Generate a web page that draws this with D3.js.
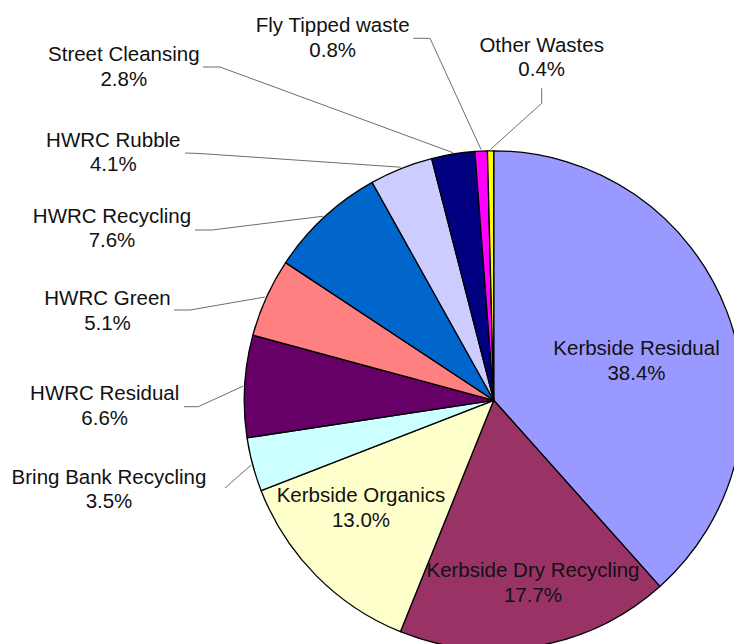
<!DOCTYPE html>
<html>
<head>
<meta charset="utf-8">
<script src="https://cdn.jsdelivr.net/npm/d3@7"></script>
<style>
  html, body { margin: 0; padding: 0; background: #fff; }
  svg { display: block; }
  text { font-family: "Liberation Sans", Arial, sans-serif; font-size: 20.5px; fill: #111; }
</style>
</head>
<body>
<svg id="chart" width="734" height="644"></svg>
<script>
// ---- data ----
const categories = [
  "Kerbside Residual", "Kerbside Dry Recycling", "Kerbside Organics",
  "Bring Bank Recycling", "HWRC Residual", "HWRC Green", "HWRC Recycling",
  "HWRC Rubble", "Street Cleansing", "Fly Tipped waste", "Other Wastes"
];
const values = [38.4, 17.7, 13.0, 3.5, 6.6, 5.1, 7.6, 4.1, 2.8, 0.8, 0.4];
const colors = [
  "#9999FF", "#993366", "#FFFFCC", "#CCFFFF", "#660066", "#FF8080",
  "#0066CC", "#CCCCFF", "#000080", "#FF00FF", "#FFFF00"
];

// ---- layout (label placement: centre x, first baseline y; leader knots) ----
const labelLayout = [
  { x: 636.5, y: 355,   leader: null },
  { x: 533,   y: 577,   leader: null },
  { x: 361,   y: 502,   leader: null },
  { x: 109,   y: 483.7, leader: [[225, 488]] },
  { x: 104.7, y: 400.3, leader: [[184, 406.7], [198.3, 406.7]] },
  { x: 107.5, y: 305,   leader: [[174, 310], [190, 310]] },
  { x: 112,   y: 222.7, leader: [[195, 230], [211.7, 230]] },
  { x: 113.3, y: 146.7, leader: [[185, 153], [200, 153.5]] },
  { x: 123.8, y: 61,    leader: [[203, 67], [220, 67]] },
  { x: 332.7, y: 32.3,  leader: [[413.3, 38.3], [430, 38.3]] },
  { x: 541.7, y: 51.7,  leader: [[541.7, 88.3], [541.7, 103.3]] }
];

const cx = 493.7, cy = 400.3, radius = 249.5, lineGap = 24.5;

const svg = d3.select("#chart");
const g = svg.append("g").attr("transform", `translate(${cx},${cy})`);

const data = categories.map((c, i) => ({ name: c, value: values[i], color: colors[i], i }));

const pie = d3.pie().value(d => d.value).sort(null).startAngle(0).endAngle(2 * Math.PI);
const arcs = pie(data);
const arc = d3.arc().innerRadius(0).outerRadius(radius);

g.selectAll("path.slice")
  .data(arcs)
  .enter().append("path")
  .attr("class", "slice")
  .attr("d", arc)
  .attr("fill", d => d.data.color)
  .attr("stroke", "#000")
  .attr("stroke-width", 1.3)
  .attr("stroke-linejoin", "round");

// leader lines
const line = d3.line();
arcs.forEach((a, i) => {
  const lay = labelLayout[i];
  if (!lay.leader) return;
  const mid = (a.startAngle + a.endAngle) / 2;
  const r = radius + 1.5;
  const end = [cx + r * Math.sin(mid), cy - r * Math.cos(mid)];
  const pts = lay.leader.concat([end]);
  svg.append("path")
    .attr("d", line(pts))
    .attr("fill", "none")
    .attr("stroke", "#6e6e6e")
    .attr("stroke-width", 1);
});

// labels
const fmt = d3.format(".1f");
arcs.forEach((a, i) => {
  const lay = labelLayout[i];
  const t = svg.append("text").attr("text-anchor", "middle");
  t.append("tspan").attr("x", lay.x).attr("y", lay.y).text(a.data.name);
  t.append("tspan").attr("x", lay.x).attr("y", lay.y + lineGap).text(fmt(a.data.value) + "%");
});
</script>
</body>
</html>
